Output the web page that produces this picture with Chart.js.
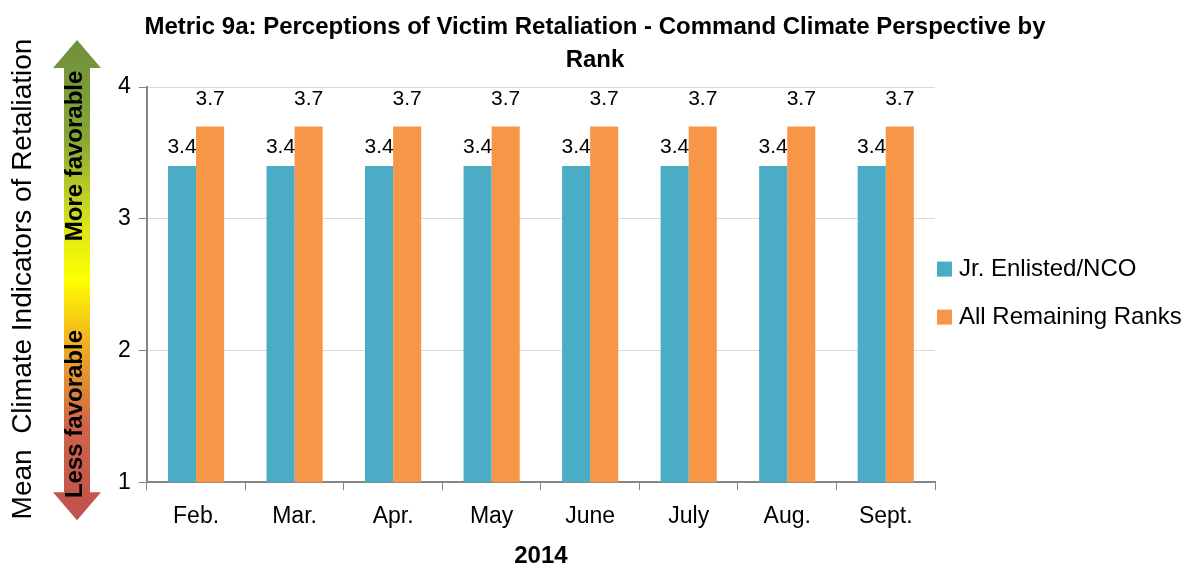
<!DOCTYPE html>
<html>
<head>
<meta charset="utf-8">
<script src="https://cdn.jsdelivr.net/npm/chart.js@4"></script>
<style>
  html, body { margin: 0; padding: 0; background: #fff; }
  #wrap { width: 1185px; height: 569px; }
</style>
</head>
<body>
<div id="wrap"><canvas id="rankChart" width="1185" height="569"></canvas></div>
<script>
// Chart data
const months = ['Feb.', 'Mar.', 'Apr.', 'May', 'June', 'July', 'Aug.', 'Sept.'];
const jrEnlisted = [3.4, 3.4, 3.4, 3.4, 3.4, 3.4, 3.4, 3.4];
const remainingRanks = [3.7, 3.7, 3.7, 3.7, 3.7, 3.7, 3.7, 3.7];
const yTicks = [1, 2, 3, 4];
const titleLines = ['Metric 9a: Perceptions of Victim Retaliation - Command Climate Perspective by', 'Rank'];

const FONT = "'Liberation Sans Narrow', 'Arial Narrow', 'Liberation Sans', sans-serif";

// value labels above each bar
const barLabels = {
  id: 'barLabels',
  afterDatasetsDraw(chart) {
    const ctx = chart.ctx;
    ctx.save();
    ctx.fillStyle = '#000';
    ctx.font = '21px ' + FONT;
    ctx.textAlign = 'center';
    ctx.textBaseline = 'middle';
    chart.data.datasets.forEach((ds, i) => {
      const lift = i === 0 ? 19 : 27;
      chart.getDatasetMeta(i).data.forEach((bar, j) => {
        ctx.fillText(ds.data[j].toFixed(1), bar.x, bar.y - lift);
      });
    });
    ctx.restore();
  }
};

// title spans the whole canvas width (built-in one gets squeezed by layout padding)
const wideTitle = {
  id: 'wideTitle',
  afterDraw(chart) {
    const ctx = chart.ctx;
    ctx.save();
    ctx.fillStyle = '#000';
    ctx.font = 'bold 24px ' + FONT;
    ctx.textAlign = 'center';
    ctx.textBaseline = 'middle';
    titleLines.forEach((line, i) => ctx.fillText(line, 595, 27 + i * 33));
    ctx.restore();
  }
};

// legend on the right, box right next to the label
const sideLegend = {
  id: 'sideLegend',
  afterDraw(chart) {
    const ctx = chart.ctx;
    const area = chart.chartArea;
    const mid = (area.top + area.bottom) / 2;
    const x0 = area.right + 2;
    ctx.save();
    ctx.font = '24px ' + FONT;
    ctx.textBaseline = 'middle';
    chart.data.datasets.forEach((ds, i) => {
      const y = mid - 15 + i * 48;
      ctx.fillStyle = ds.backgroundColor;
      ctx.fillRect(x0, y - 8, 15, 15);
      ctx.fillStyle = '#000';
      ctx.fillText(ds.label, x0 + 22, y);
    });
    ctx.restore();
  }
};

// gradient "favorable" arrow and y axis title on the left
const sideArrow = {
  id: 'sideArrow',
  afterDraw(chart) {
    const ctx = chart.ctx;
    const area = chart.chartArea;
    const top = area.top - 47, bottom = area.bottom + 38;
    const cx = 77, headW = 24, shaftW = 13, headH = 28;

    ctx.save();
    const grad = ctx.createLinearGradient(0, top, 0, bottom);
    grad.addColorStop(0, '#6f8f3c');
    grad.addColorStop(0.2, '#86a536');
    grad.addColorStop(0.38, '#d7e21a');
    grad.addColorStop(0.5, '#ffff00');
    grad.addColorStop(0.62, '#f2b51f');
    grad.addColorStop(0.8, '#d0644a');
    grad.addColorStop(1, '#c0504d');
    ctx.fillStyle = grad;
    ctx.beginPath();
    ctx.moveTo(cx, top);
    ctx.lineTo(cx + headW, top + headH);
    ctx.lineTo(cx + shaftW, top + headH);
    ctx.lineTo(cx + shaftW, bottom - headH);
    ctx.lineTo(cx + headW, bottom - headH);
    ctx.lineTo(cx, bottom);
    ctx.lineTo(cx - headW, bottom - headH);
    ctx.lineTo(cx - shaftW, bottom - headH);
    ctx.lineTo(cx - shaftW, top + headH);
    ctx.lineTo(cx - headW, top + headH);
    ctx.closePath();
    ctx.fill();

    ctx.fillStyle = '#000';
    ctx.textAlign = 'center';
    ctx.textBaseline = 'middle';
    ctx.font = 'bold 24px ' + FONT;
    ctx.translate(cx - 2, 0);
    ctx.rotate(-Math.PI / 2);
    ctx.fillText('More favorable', -156, 0);
    ctx.fillText('Less favorable', -414, 0);
    ctx.restore();

    ctx.save();
    ctx.fillStyle = '#000';
    ctx.font = '28px ' + FONT;
    ctx.textAlign = 'center';
    ctx.textBaseline = 'middle';
    ctx.translate(23, 279);
    ctx.rotate(-Math.PI / 2);
    ctx.fillText('Mean  Climate Indicators of Retaliation', 0, 0);
    ctx.restore();
  }
};

new Chart(document.getElementById('rankChart'), {
  type: 'bar',
  data: {
    labels: months,
    datasets: [
      {
        label: 'Jr. Enlisted/NCO',
        data: jrEnlisted,
        backgroundColor: '#4bacc6',
        categoryPercentage: 0.57,
        barPercentage: 1.0
      },
      {
        label: 'All Remaining Ranks',
        data: remainingRanks,
        backgroundColor: '#f79646',
        categoryPercentage: 0.57,
        barPercentage: 1.0
      }
    ]
  },
  options: {
    responsive: false,
    animation: false,
    layout: { padding: { left: 110, right: 250, top: 87, bottom: 0 } },
    plugins: {
      title: { display: false },
      legend: { display: false },
      tooltip: { enabled: false }
    },
    scales: {
      x: {
        offset: true,
        grid: { display: true, drawOnChartArea: false, offset: true, color: '#868686', tickLength: 8 },
        border: { color: '#868686', width: 2 },
        ticks: { color: '#000', font: { family: FONT, size: 23 }, padding: 13 },
        title: {
          display: true,
          text: '2014',
          color: '#000',
          font: { family: FONT, size: 24, weight: 'bold', lineHeight: 1.05 },
          padding: 0
        }
      },
      y: {
        min: 1,
        max: 4,
        afterBuildTicks(scale) { scale.ticks = yTicks.map(v => ({ value: v })); },
        grid: { color: '#d9d9d9', tickColor: '#868686', tickLength: 8 },
        border: { color: '#868686', width: 2 },
        ticks: { color: '#000', font: { family: FONT, size: 23 }, padding: 8 }
      }
    }
  },
  plugins: [barLabels, wideTitle, sideLegend, sideArrow]
});
</script>
</body>
</html>
